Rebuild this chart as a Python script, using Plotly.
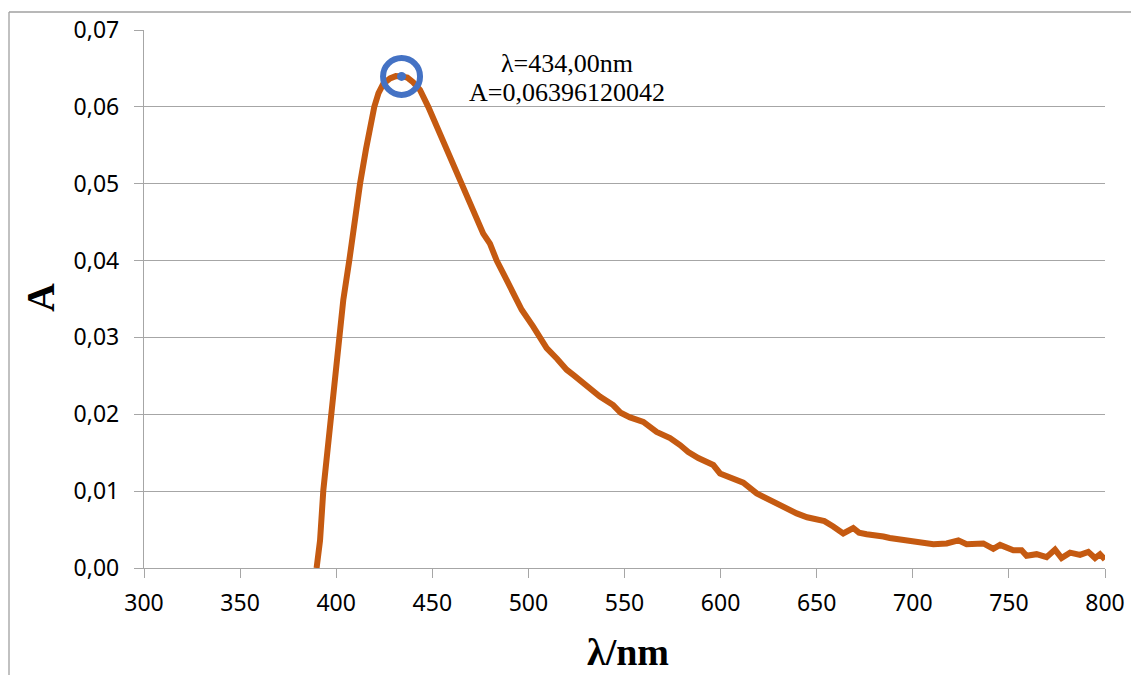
import plotly.graph_objects as go

wavelength = [389.8, 391.6, 393.3, 395.0, 397.6, 399.4, 401.6, 403.7, 406.8, 409.8,
              412.4, 415.5, 417.5, 419.8, 422.0, 424.5, 428.0, 431.0, 434.0, 437.0,
              440.0, 443.6, 447.9, 452.5, 457.4, 461.5, 465.3, 468.0, 471.3, 476.5,
              480.0, 483.5, 487.8, 491.3, 496.5, 502.5, 506.0, 509.5, 515.0, 519.9,
              524.0, 528.6, 533.0, 537.2, 544.1, 548.0, 552.9, 559.8, 566.7, 573.7,
              578.9, 583.2, 588.4, 592.0, 596.2, 599.7, 606.6, 611.8, 618.8, 625.7,
              632.6, 639.6, 645.0, 650.0, 654.0, 658.6, 663.8, 669.0, 672.0, 676.0,
              680.0, 684.7, 688.0, 693.3, 697.0, 702.0, 706.0, 710.7, 717.6, 723.7,
              728.0, 736.7, 741.9, 745.4, 752.3, 756.6, 759.2, 764.4, 769.6, 774.0,
              777.4, 781.8, 787.0, 791.3, 794.8, 797.4, 800.0]
absorbance = [0.0000, 0.0036, 0.0101, 0.0141, 0.0201, 0.0253, 0.0301, 0.0349, 0.0400, 0.0457,
              0.0500, 0.0545, 0.0573, 0.0600, 0.0618, 0.0630, 0.0637, 0.0640, 0.06396, 0.0638,
              0.0632, 0.0622, 0.0600, 0.0574, 0.0544, 0.0522, 0.0500, 0.0483, 0.0466, 0.0435,
              0.0422, 0.0400, 0.0379, 0.0362, 0.0336, 0.0314, 0.0301, 0.0286, 0.0272, 0.0258,
              0.0250, 0.0240, 0.0233, 0.0223, 0.0212, 0.0202, 0.0196, 0.0190, 0.0177, 0.0169,
              0.0160, 0.0151, 0.0143, 0.0139, 0.0134, 0.0123, 0.0117, 0.0111, 0.0097, 0.0088,
              0.0080, 0.0071, 0.0066, 0.0064, 0.0061, 0.0054, 0.0045, 0.0052, 0.0046, 0.0044,
              0.0043, 0.0041, 0.0039, 0.0037, 0.0036, 0.0035, 0.0033, 0.0031, 0.0032, 0.0036,
              0.0031, 0.0032, 0.0025, 0.0030, 0.0023, 0.0023, 0.0016, 0.0018, 0.0014, 0.0024,
              0.0013, 0.0020, 0.0017, 0.0021, 0.0013, 0.0018, 0.0011]

peak_wl = [434.0]
peak_A = [0.06396120042]
peak_label_1 = "λ=434,00nm"
peak_label_2 = "A=0,06396120042"

x_title = "λ/nm"
y_title = "A"

GRID = "#A6A6A6"

W, H = 1131, 667
L, R, T, B = 136, 34, 22, 107
PW, PH = W - L - R, H - T - B

fig = go.Figure()
fig.add_trace(go.Scatter(x=wavelength, y=absorbance, mode="lines",
                         line=dict(color="#C55A11", width=6), showlegend=False,
                         hoverinfo="skip"))
fig.add_trace(go.Scatter(x=peak_wl, y=peak_A, mode="markers",
                         marker=dict(size=37, color="rgba(0,0,0,0)",
                                     line=dict(color="#4472C4", width=6)),
                         showlegend=False))
fig.add_trace(go.Scatter(x=peak_wl, y=peak_A, mode="markers",
                         marker=dict(size=9, color="#4472C4"),
                         showlegend=False))

font_ticks = dict(family="Noto Sans", size=23, color="black")

fig.update_layout(
    width=W, height=H,
    margin=dict(l=L, r=R, t=T, b=B),
    paper_bgcolor="white", plot_bgcolor="white",
    separators=", ",
    xaxis=dict(range=[300, 800], dtick=50, tick0=300, showgrid=False,
               automargin=False,
               showline=True, linecolor=GRID, linewidth=1.3,
               ticks="outside", ticklen=9, tickcolor=GRID, tickwidth=1.3,
               ticklabelstandoff=5,
               tickfont=font_ticks, zeroline=False),
    yaxis=dict(range=[0, 0.07], dtick=0.01, tickformat=".2f", showgrid=True,
               automargin=False,
               gridcolor=GRID, gridwidth=1.3,
               showline=True, linecolor=GRID, linewidth=1.3,
               ticks="outside", ticklen=9, tickcolor=GRID, tickwidth=1.3,
               ticklabelstandoff=10,
               tickfont=font_ticks, zeroline=False),
    font=dict(family="Noto Sans"),
)

fig.add_annotation(x=520, y=0.0657, xref="x", yref="y", text=peak_label_1,
                   xanchor="center", yanchor="middle",
                   showarrow=False, font=dict(family="Liberation Serif", size=26, color="black"))
fig.add_annotation(x=520, y=0.0619, xref="x", yref="y", text=peak_label_2,
                   xanchor="center", yanchor="middle",
                   showarrow=False, font=dict(family="Liberation Serif", size=26, color="black"))

fig.add_annotation(x=(628 - 8 - L) / PW, y=-(652 - 8 - (T + PH)) / PH, xref="paper", yref="paper",
                   text="<b>" + x_title + "</b>", xanchor="center", yanchor="middle",
                   showarrow=False, font=dict(family="Liberation Serif", size=38, color="black"))
fig.add_annotation(x=(40 - 8 - L) / PW, y=1 - (298 - 8 - T) / PH, xref="paper", yref="paper",
                   text="<b>" + y_title + "</b>", xanchor="center", yanchor="middle",
                   textangle=-90, showarrow=False,
                   font=dict(family="Liberation Serif", size=40, color="black"))

# outer chart frame (top and left edges visible)
fx0 = (1 - L) / PW
fy1 = 1 + (T - 4) / PH
fig.add_shape(type="line", xref="paper", yref="paper", x0=fx0, x1=fx0, y0=-0.5, y1=fy1,
              line=dict(color="#A0A0A0", width=1.3))
fig.add_shape(type="line", xref="paper", yref="paper", x0=fx0, x1=1.2, y0=fy1, y1=fy1,
              line=dict(color="#A0A0A0", width=1.3))

fig.write_html("out.html")
